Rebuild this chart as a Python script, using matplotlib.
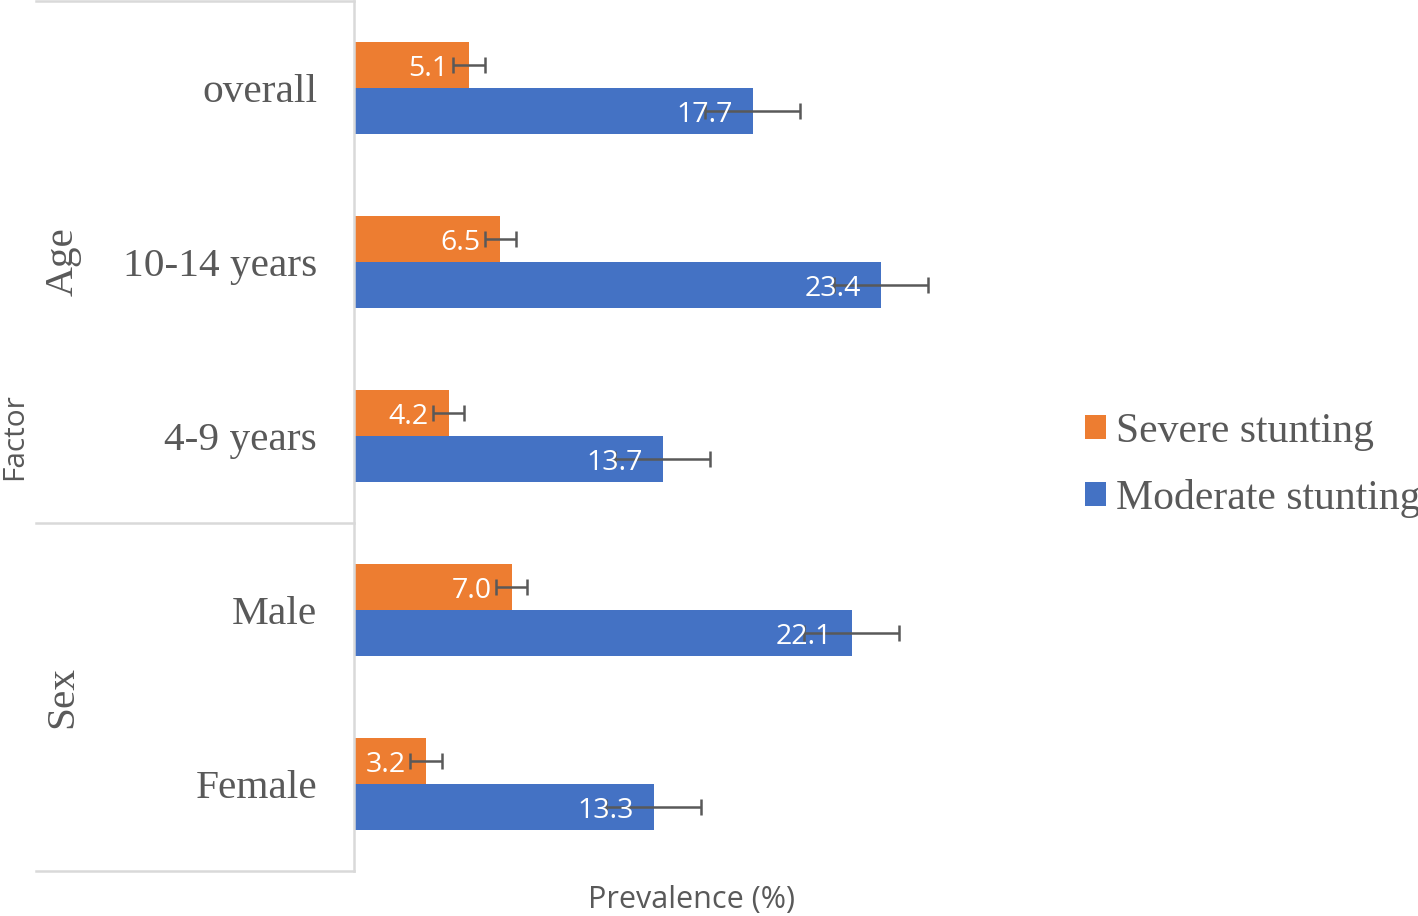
#!/usr/bin/env python
''' Stunting prevalence by factor - horizontal grouped bars with error bars '''

import numpy as np
import matplotlib.pyplot as plt
from matplotlib.transforms import blended_transform_factory

##### DATA ######
categories = ['overall', '10-14 years', '4-9 years', 'Male', 'Female']
groups = ['Age', 'Sex']
severe = [5.1, 6.5, 4.2, 7.0, 3.2]
moderate = [17.7, 23.4, 13.7, 22.1, 13.3]
severe_err = [0.7, 0.7, 0.7, 0.7, 0.7]
moderate_err = [2.1, 2.1, 2.1, 2.1, 2.1]
series_names = ['Severe stunting', 'Moderate stunting']
#################

orange = '#ED7D31'
blue = '#4472C4'
gray = '#595959'
light = '#D9D9D9'
serif = 'Liberation Serif'
sans = 'Open Sans'

W, H = 1418, 916
fig = plt.figure(figsize=(W/100, H/100), dpi=100)
ax = fig.add_axes([354/W, 1 - 871/H, 675.6/W, 870/H])

y = np.arange(len(categories))
bh = 0.264  # bar thickness in category units

b1 = ax.barh(y - bh/2, severe, height=bh, color=orange, label=series_names[0])
b2 = ax.barh(y + bh/2, moderate, height=bh, color=blue, label=series_names[1])

# value labels (inside end), drawn before error bars so bars sit on top
for vals, yy in ((severe, y - bh/2), (moderate, y + bh/2)):
    for v, yc in zip(vals, yy):
        ax.annotate('%.1f' % v, (v, yc), xytext=(-14.5, -3),
                    textcoords='offset points', ha='right', va='center',
                    color='white', fontsize=20.5, family=sans)

# error bars centred on bar ends
ax.errorbar(severe, y - bh/2, xerr=severe_err, fmt='none', ecolor=gray,
            elinewidth=1.8, capsize=5.5, capthick=1.8)
ax.errorbar(moderate, y + bh/2, xerr=moderate_err, fmt='none', ecolor=gray,
            elinewidth=1.8, capsize=5.5, capthick=1.8)

ax.set_xlim(0, 30)
ax.set_ylim(len(categories) - 0.5, -0.5)
ax.set_xticks([])
ax.set_yticks(y)
ax.set_yticklabels(categories, family=serif, fontsize=29.8, color=gray)
ax.tick_params(axis='y', length=0, pad=26.5)

for s in ['top', 'right', 'bottom']:
    ax.spines[s].set_visible(False)
ax.spines['left'].set_color(light)
ax.spines['left'].set_linewidth(1.8)

# group brackets on the left
tr = blended_transform_factory(ax.transAxes, ax.transData)
x0 = (36 - 354) / 675.6
for yy in [-0.5, 2.5, 4.5]:
    ax.plot([x0, 0], [yy, yy], color=light, lw=1.8, transform=tr, clip_on=False)

xg = (63 - 354) / 675.6
ax.text(xg, 1, groups[0], rotation=90, ha='center', va='center', transform=tr,
        family=serif, fontsize=29.8, color=gray)
ax.text(xg, 3.5, groups[1], rotation=90, ha='center', va='center', transform=tr,
        family=serif, fontsize=29.8, color=gray)

fig.text(0.5/W, 1 - 437/H, 'Factor', rotation=90, ha='left', va='center',
         family=sans, fontsize=21.5, color=gray)
fig.text(691/W, 1 - 900/H, 'Prevalence (%)', ha='center', va='center',
         family=sans, fontsize=22, color=gray)

leg = fig.legend(handles=[b1, b2], loc='center left',
                 bbox_to_anchor=(1085/W, 1 - 465/H), frameon=False,
                 prop={'family': serif, 'size': 30}, handlelength=0.5,
                 handleheight=0.5, handletextpad=0.25, labelspacing=0.68,
                 borderpad=0, borderaxespad=0)
for t in leg.get_texts():
    t.set_color(gray)

fig.savefig('out.png', dpi=100)
